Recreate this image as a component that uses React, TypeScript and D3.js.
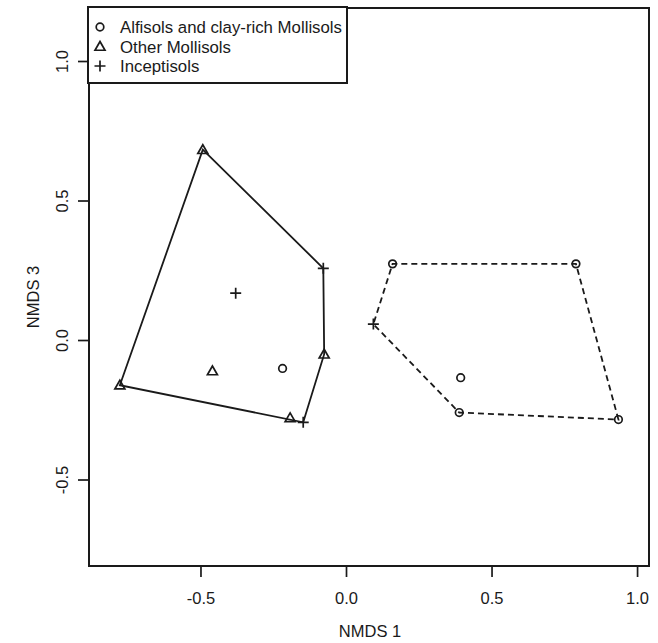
import { useEffect, useRef } from "react";
import * as d3 from "d3";

// NMDS scores
const soilTypes = ["Alfisols and clay-rich Mollisols", "Other Mollisols", "Inceptisols"];
const symbols = ["circle", "triangle", "plus"];

const leftGroupX = [-0.492, -0.078, -0.379, -0.075, -0.459, -0.218, -0.777, -0.192, -0.147];
const leftGroupY = [0.682, 0.257, 0.168, -0.051, -0.111, -0.102, -0.162, -0.279, -0.295];
const leftGroupType = [1, 2, 2, 1, 1, 0, 1, 1, 2];

const rightGroupX = [0.16, 0.79, 0.094, 0.394, 0.389, 0.936];
const rightGroupY = [0.273, 0.273, 0.057, -0.135, -0.26, -0.285];
const rightGroupType = [0, 0, 2, 0, 0, 0];

const xTicks = [-0.5, 0.0, 0.5, 1.0];
const yTicks = [-0.5, 0.0, 0.5, 1.0];

export default function App() {
  const ref = useRef<SVGSVGElement>(null);

  useEffect(() => {
    const svg = d3.select(ref.current);
    svg.selectAll("*").remove();

    const left = 89, right = 649, top = 8, bottom = 566;
    const font = "'Liberation Sans', Arial, sans-serif";
    const ink = "#1a1a1a";
    const fmt = (d) => d.toFixed(1); // plain hyphen minus, like R

    const x = d3.scaleLinear().domain([-0.883, 1.041]).range([left, right]);
    const y = d3.scaleLinear().domain([-0.81, 1.19]).range([bottom, top]);

    function drawSymbol(g, type, cx, cy) {
      if (type === "circle") {
        g.append("circle").attr("cx", cx).attr("cy", cy).attr("r", 3.8)
          .attr("fill", "none").attr("stroke", ink).attr("stroke-width", 1.7);
      } else if (type === "triangle") {
        const s = 5;
        g.append("path")
          .attr("d", `M${cx},${cy - s}L${cx + s},${cy + s * 0.75}L${cx - s},${cy + s * 0.75}Z`)
          .attr("fill", "none").attr("stroke", ink).attr("stroke-width", 1.7);
      } else {
        const s = 5.5;
        g.append("path")
          .attr("d", `M${cx - s},${cy}H${cx + s}M${cx},${cy - s}V${cy + s}`)
          .attr("fill", "none").attr("stroke", ink).attr("stroke-width", 1.7);
      }
    }

    function drawGroup(xs, ys, types, dashed) {
      const pts: [number, number][] = xs.map((v, i) => [x(v), y(ys[i])]);
      const hull = d3.polygonHull(pts);
      svg.append("path")
        .attr("d", d3.line()(hull) + "Z")
        .attr("fill", "none")
        .attr("stroke", ink)
        .attr("stroke-width", 1.8)
        .attr("stroke-dasharray", dashed ? "6 4" : null);
      const g = svg.append("g");
      pts.forEach((p, i) => drawSymbol(g, symbols[types[i]], p[0], p[1]));
    }

    drawGroup(leftGroupX, leftGroupY, leftGroupType, false);
    drawGroup(rightGroupX, rightGroupY, rightGroupType, true);

    // axes (R style: ticks outside the box)
    const xa = svg.append("g").attr("transform", `translate(0,${bottom})`)
      .call(d3.axisBottom(x).tickValues(xTicks).tickSize(11).tickPadding(15).tickFormat(fmt));
    xa.select(".domain").remove();
    const ya = svg.append("g").attr("transform", `translate(${left},0)`)
      .call(d3.axisLeft(y).tickValues(yTicks).tickSize(11).tickPadding(8).tickFormat(fmt));
    ya.select(".domain").remove();
    svg.selectAll(".tick line").attr("stroke", ink).attr("stroke-width", 1.7);
    svg.selectAll(".tick text").attr("font-family", font).attr("font-size", 16.5).attr("fill", ink);
    ya.selectAll(".tick text")
      .attr("text-anchor", "middle")
      .attr("x", 0)
      .attr("y", 0)
      .attr("dy", "0.35em")
      .attr("transform", "translate(-27,0) rotate(-90)");

    svg.append("rect")
      .attr("x", left).attr("y", top).attr("width", right - left).attr("height", bottom - top)
      .attr("fill", "none").attr("stroke", ink).attr("stroke-width", 2);

    svg.append("text").attr("x", 370).attr("y", 637)
      .attr("text-anchor", "middle").attr("font-family", font).attr("font-size", 16.5).attr("fill", ink)
      .text("NMDS 1");
    svg.append("text")
      .attr("transform", `translate(39,${(top + bottom) / 2 + 10}) rotate(-90)`)
      .attr("text-anchor", "middle").attr("font-family", font).attr("font-size", 16.5).attr("fill", ink)
      .text("NMDS 3");

    // legend
    const lg = svg.append("g");
    lg.append("rect").attr("x", 88).attr("y", 7).attr("width", 259).attr("height", 76)
      .attr("fill", "white").attr("stroke", ink).attr("stroke-width", 2);
    soilTypes.forEach((name, i) => {
      const cy = 27 + i * 19.5;
      drawSymbol(lg, symbols[i], 100, cy);
      lg.append("text").attr("x", 120).attr("y", cy + 6)
        .attr("font-family", font).attr("font-size", 16.8).attr("fill", ink).text(name);
    });
  });

  return (
    <svg ref={ref} width={658} height={643}
      style={{ position: "absolute", left: 0, top: 0, background: "white" }} />
  );
}
